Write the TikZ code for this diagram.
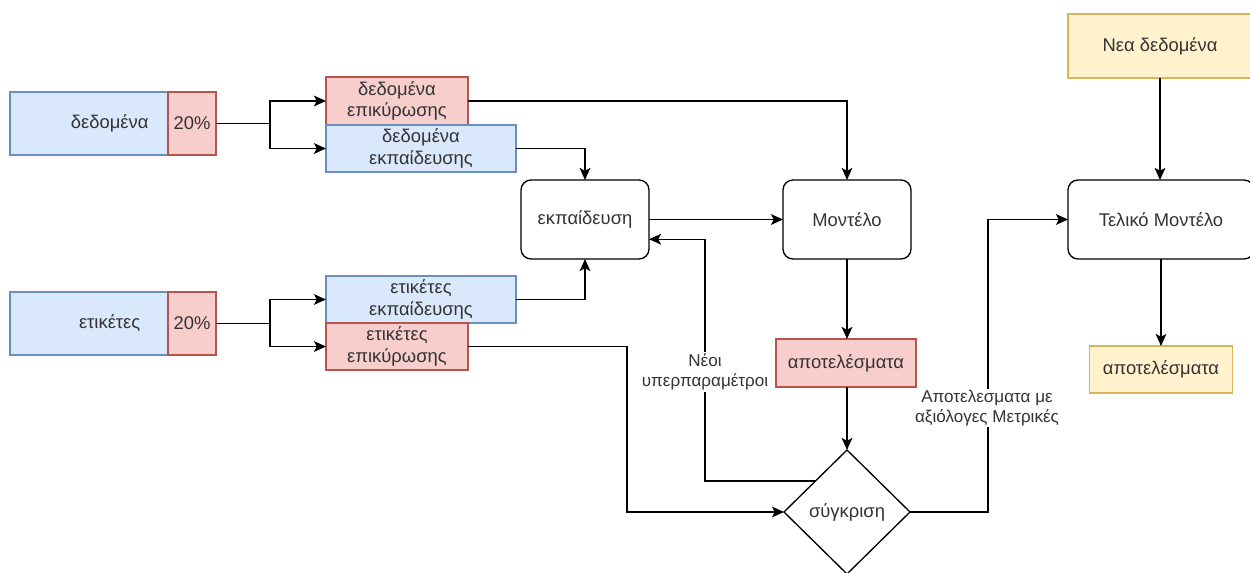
\documentclass[tikz,border=0pt]{standalone}
\usepackage{fontspec}
\setmainfont{Liberation Sans}
\usetikzlibrary{shapes.geometric,arrows.meta,calc}
\definecolor{bfill}{HTML}{DAE8FC}\definecolor{bdraw}{HTML}{6C8EBF}
\definecolor{rfill}{HTML}{F8CECC}\definecolor{rdraw}{HTML}{B85450}
\definecolor{yfill}{HTML}{FFF2CC}\definecolor{ydraw}{HTML}{D6B656}
\definecolor{txt}{HTML}{333333}
\tikzset{
  sz/.style 2 args={minimum width={#1*0.75pt}, minimum height={#2*0.75pt}, inner sep=0pt, outer sep=0pt},
  base/.style={font=\fontsize{13.8}{16}\selectfont, text=txt, align=center, line width=1pt},
  bluebox/.style={base, draw=bdraw, fill=bfill},
  redbox/.style={base, draw=rdraw, fill=rfill},
  yelbox/.style={base, draw=ydraw, fill=yfill},
  roundbox/.style={base, draw=black, rounded corners=7.5pt},
  decision/.style={base, draw=black, diamond},
  arr/.style={draw=black, line width=1pt, -{Stealth[length=9pt,width=8pt,inset=2pt]}},
  ln/.style={draw=black, line width=1pt},
  lbl/.style={font=\fontsize{12.8}{15}\selectfont, text=txt, fill=white, align=center, inner sep=1pt}
}
\begin{document}
\begin{tikzpicture}[x=0.75pt,y=-0.75pt]
\useasboundingbox (0,0) rectangle (1250,573);
% input blocks
\node[bluebox, sz={158}{63}] (data) at (89,123.5) {\hspace*{31pt}δεδομένα};
\node[redbox, sz={48}{63}] (dp) at (192,123.5) {20\%};
\node[bluebox, sz={158}{63}] (lab) at (89,323.5) {\hspace*{31pt}ετικέτες};
\node[redbox, sz={48}{63}] (lp) at (192,323.5) {20\%};
% split blocks
\node[redbox, sz={142}{48}] (dv) at (397,101) {δεδομένα\\επικύρωσης};
\node[bluebox, sz={190}{47}] (dt) at (421,148.5) {δεδομένα\\εκπαίδευσης};
\node[bluebox, sz={190}{47}] (lt) at (421,299.5) {ετικέτες\\εκπαίδευσης};
\node[redbox, sz={142}{47}] (lv) at (397,346.5) {ετικέτες\\επικύρωσης};
% main flow
\node[roundbox, sz={128}{79}] (train) at (585,219.5) {εκπαίδευση};
\node[roundbox, sz={128}{79}] (model) at (847,219.5) {Μοντέλο};
\node[redbox, sz={140}{48}] (res) at (846,363) {αποτελέσματα};
\node[decision, sz={126}{124}] (cmp) at (847,512) {σύγκριση};
\node[roundbox, sz={186}{79}] (final) at (1161,219.5) {Τελικό Μοντέλο};
\node[yelbox, sz={184}{64}] (new) at (1160,46) {Νεα δεδομένα};
\node[yelbox, sz={143}{47}] (res2) at (1161,369.5) {αποτελέσματα};
% helper coordinates
\coordinate (s1) at (270,123.5);
\coordinate (s2) at (270,323.5);
\coordinate (c1) at (627,0);
\coordinate (c2) at (705,0);
\coordinate (c3) at (988,0);
\coordinate (trin) at ($(train.south east)!0.25!(train.north east)$);
% connectors
\draw[ln] (dp.east) -- (s1);
\draw[arr] (s1) |- (dv.west);
\draw[arr] (s1) |- (dt.west);
\draw[ln] (lp.east) -- (s2);
\draw[arr] (s2) |- (lt.west);
\draw[arr] (s2) |- (lv.west);
\draw[arr] (dv.east) -| (model.north);
\draw[arr] (dt.east) -| (train.north);
\draw[arr] (lt.east) -| (train.south);
\draw[arr] (lv.east) -| (c1 |- cmp.west) -- (cmp.west);
\draw[arr] (train.east) -- (model.west);
\draw[arr] (model.south) -- (res.north -| model.south);
\draw[arr] (res.south -| cmp.north) -- (cmp.north);
\draw[arr] (cmp.north west) -| (c2 |- trin) -- (trin);
\draw[arr] (cmp.east) -| (c3 |- final.west) -- (final.west);
\draw[arr] (new.south) -- (final.north -| new.south);
\draw[arr] (final.south -| res2.north) -- (res2.north);
% labels
\node[lbl] (l1) at (705,372) {Νέοι\\υπερπαραμέτροι};
\node[lbl] (l2) at (987,408) {Αποτελεσματα με\\αξιόλογες Μετρικές};
\end{tikzpicture}
\end{document}
